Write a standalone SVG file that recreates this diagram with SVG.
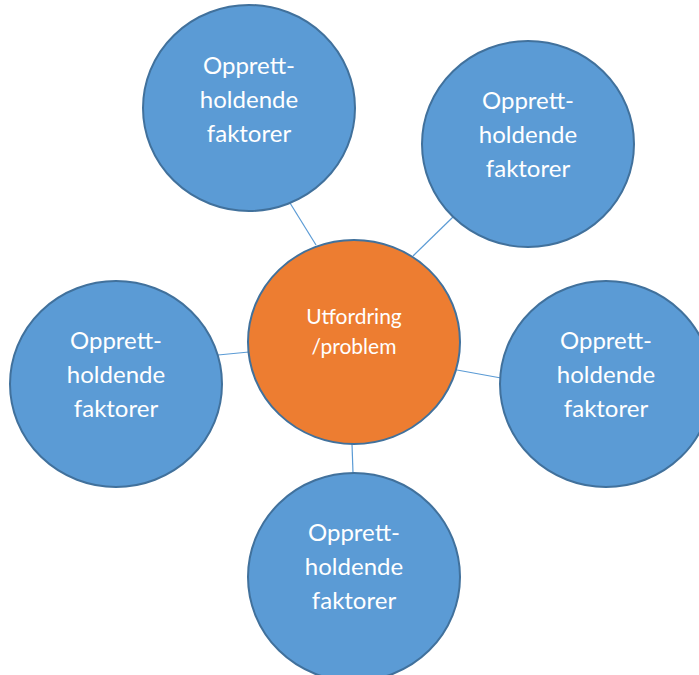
<svg xmlns="http://www.w3.org/2000/svg" width="699" height="675" viewBox="0 0 699 675">
<style>
.n{fill:#5B9BD5;stroke:#41719C;stroke-width:2}
.c{fill:#ED7D31;stroke:#41719C;stroke-width:2}
.t{fill:#fff;font-family:Lato,"Open Sans",sans-serif;font-size:24px;text-anchor:middle}
.tc{fill:#fff;font-family:Lato,"Open Sans",sans-serif;font-size:21px;text-anchor:middle}
.l{stroke:#5B9BD5;stroke-width:1.2;fill:none}
</style>
<rect width="699" height="675" fill="#fff"/>
<g id="connectors">
<line class="l" x1="290" y1="203" x2="316" y2="245"/>
<line class="l" x1="453" y1="217" x2="413" y2="256"/>
<line class="l" x1="218" y1="355" x2="249" y2="352"/>
<line class="l" x1="457" y1="370" x2="501" y2="378"/>
<line class="l" x1="352" y1="444" x2="353" y2="473"/>
</g>
<g id="center">
<ellipse class="c" cx="354" cy="342" rx="106" ry="102"/>
<text class="tc" x="354" y="324">Utfordring</text>
<text class="tc" x="354" y="354">/problem</text>
</g>
<g id="top-left">
<ellipse class="n" cx="249" cy="108" rx="106" ry="103"/>
<text class="t" x="249" y="74">Opprett-</text>
<text class="t" x="249" y="108">holdende</text>
<text class="t" x="249" y="142">faktorer</text>
</g>
<g id="top-right">
<ellipse class="n" cx="528" cy="144" rx="106" ry="103"/>
<text class="t" x="528" y="109">Opprett-</text>
<text class="t" x="528" y="143">holdende</text>
<text class="t" x="528" y="177">faktorer</text>
</g>
<g id="left">
<ellipse class="n" cx="116" cy="384" rx="106" ry="103"/>
<text class="t" x="116" y="349">Opprett-</text>
<text class="t" x="116" y="383">holdende</text>
<text class="t" x="116" y="417">faktorer</text>
</g>
<g id="right">
<ellipse class="n" cx="606" cy="384" rx="106" ry="103"/>
<text class="t" x="606" y="349">Opprett-</text>
<text class="t" x="606" y="383">holdende</text>
<text class="t" x="606" y="417">faktorer</text>
</g>
<g id="bottom">
<ellipse class="n" cx="354" cy="577" rx="106" ry="104"/>
<text class="t" x="354" y="541">Opprett-</text>
<text class="t" x="354" y="575">holdende</text>
<text class="t" x="354" y="609">faktorer</text>
</g>
</svg>
